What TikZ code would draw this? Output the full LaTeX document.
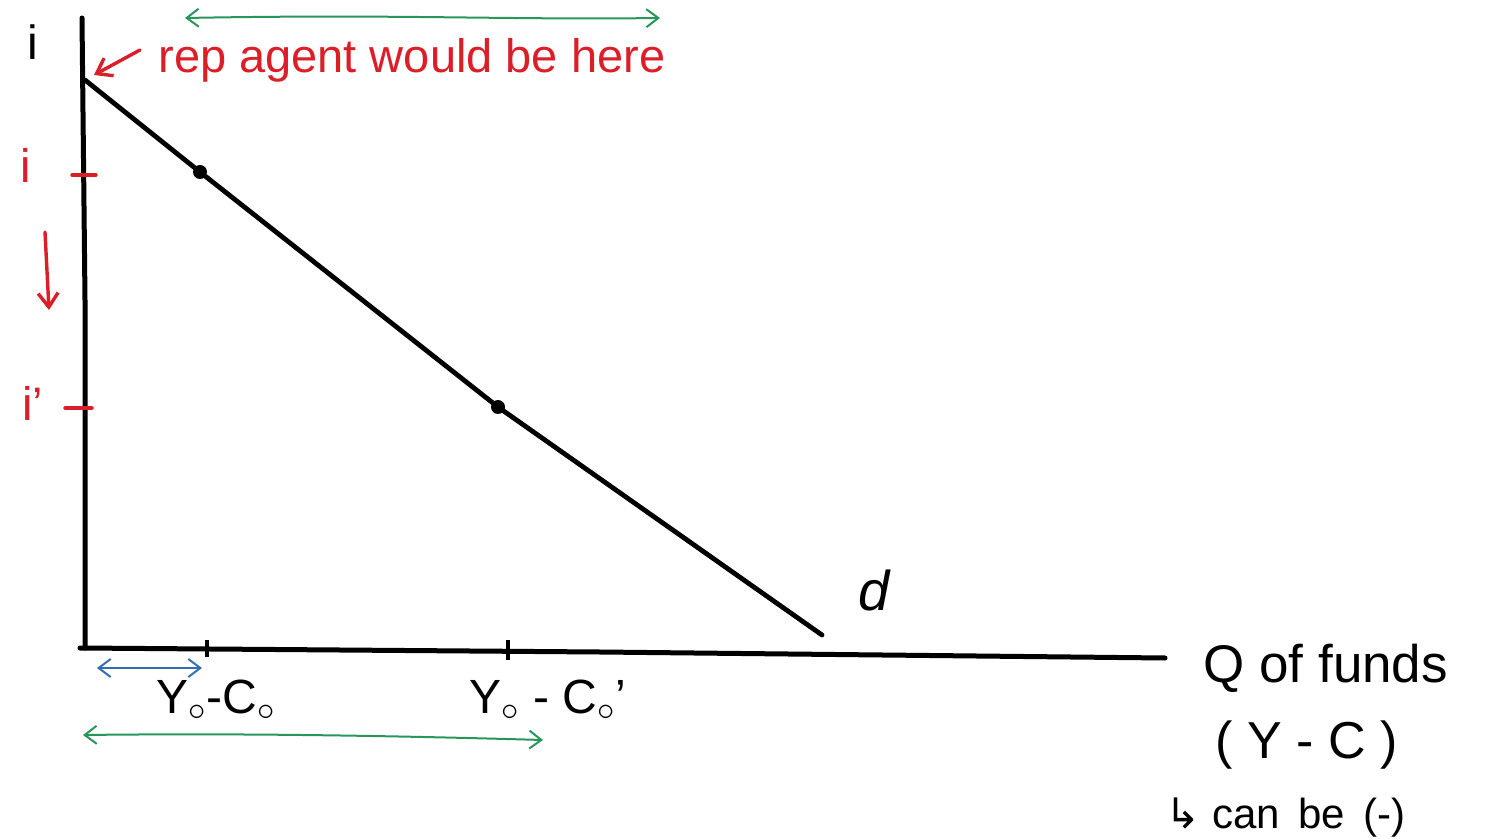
\documentclass[tikz,border=0pt]{standalone}
\usepackage{fontspec}
\setmainfont{Liberation Sans}
\newfontfamily\symfont{DejaVu Sans}
\usetikzlibrary{arrows.meta}
\definecolor{redink}{RGB}{220,30,40}
\definecolor{greenink}{RGB}{40,150,90}
\definecolor{blueink}{RGB}{50,110,180}
\tikzset{
  axis/.style={line width=2.5pt, line cap=round, line join=round, black},
  curve/.style={line width=2.4pt, line cap=round, line join=round, black},
  redmark/.style={line width=1.7pt, redink, line cap=round},
  redtext/.style={text=redink, font=\fontsize{23.5}{27}\selectfont, inner sep=0pt},
  blacktext/.style={text=black, font=\fontsize{24}{28}\selectfont, inner sep=0pt},
  span/.style={line width=1pt, {Straight Barb[length=6pt,width=9pt]}-{Straight Barb[length=6pt,width=9pt]}},
  pt/.style={circle, fill=black, inner sep=0pt, minimum size=7pt},
}
\begin{document}
\begin{tikzpicture}[x=0.5pt,y=-0.5pt]
\useasboundingbox (0,0) rectangle (1504,839);
% axes
\coordinate (ytop) at (82,18);
\coordinate (orig) at (85,648);
\coordinate (xend) at (1165,658);
\draw[axis] (ytop) -- (85,300) -- (orig);
\draw[axis] (80,648) -- (600,652) -- (xend);
% demand line
\coordinate (dA) at (85,80);
\coordinate (dB) at (822,635);
\node[pt] (p1) at (200,172) {};
\node[pt] (p2) at (498,407) {};
\draw[curve] (dA) -- (p1.center) -- (p2.center) -- (dB);
% x ticks
\coordinate (t1a) at (207,640); \coordinate (t1b) at (207,657);
\coordinate (t2a) at (508,640); \coordinate (t2b) at (508,660);
\draw[line width=2pt] (t1a) -- (t1b);
\draw[line width=2pt] (t2a) -- (t2b);
% red ticks on y axis
\coordinate (r1a) at (72,175); \coordinate (r1b) at (96,175);
\coordinate (r2a) at (65,408); \coordinate (r2b) at (92,408);
\draw[redmark] (r1a) -- (r1b);
\draw[redmark] (r2a) -- (r2b);
% labels
\node[blacktext] (ilab) at (33,42) {i};
\node[redtext] (i1) at (26,165) {i};
\node[redtext] (i2) at (33,403) {i'};
\coordinate (da1) at (45,232); \coordinate (da2) at (49,310);
\draw[redmark, -{Straight Barb[length=7pt,width=10pt]}] (da1) -- (da2);
\coordinate (ra1) at (140,50); \coordinate (ra2) at (94,75);
\draw[redmark, -{Straight Barb[length=7pt,width=10pt]}] (ra1) -- (ra2);
\node[redtext, anchor=west] (rep) at (158,60) {rep agent would be here};
% green and blue spans
\coordinate (g1a) at (185,18); \coordinate (g1b) at (660,18);
\draw[span, greenink] (g1a) .. controls (400,14) and (500,20) .. (g1b);
\coordinate (ba) at (97,668); \coordinate (bb) at (202,668);
\draw[span, blueink] (ba) -- (bb);
\coordinate (g2a) at (83,735); \coordinate (g2b) at (543,740);
\draw[span, greenink] (g2a) .. controls (250,733) and (400,736) .. (g2b);
% x labels
\node[blacktext] (x1) at (216,700) {Y$_\circ$-C$_\circ$};
\node[blacktext] (x2) at (548,700) {Y$_\circ$ - C$_\circ$'};
\node[blacktext, font=\fontsize{28}{32}\itshape] (dlab) at (874,590) {d};
\node[blacktext, anchor=west, font=\fontsize{26.5}{30}\selectfont] (q1) at (1203,668) {Q of funds};
\node[blacktext, anchor=west, font=\fontsize{26}{30}\selectfont] (q2) at (1215,745) {( Y - C )};
\node[blacktext, anchor=west, font=\fontsize{21}{25}\selectfont] (q3) at (1165,818) {{\symfont ↳} can \,be \,(-)};
\end{tikzpicture}
\end{document}
